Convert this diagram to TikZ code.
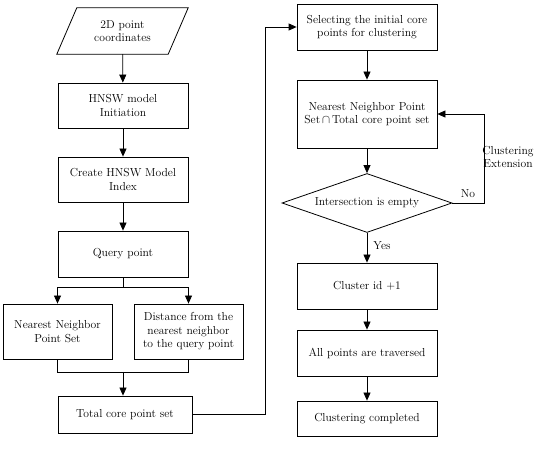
\documentclass[tikz,border=0pt]{standalone}
\usetikzlibrary{arrows.meta,shapes.geometric}
\begin{document}
\begin{tikzpicture}[x=1pt,y=-1pt,
  every node/.style={font=\fontsize{11.6}{13.6}\selectfont, align=center, inner sep=1pt},
  box/.style={draw, thick, rectangle, minimum width=130pt},
  rbox/.style={draw, thick, rectangle, minimum width=140pt},
  conn/.style={thick, -{Triangle[length=8pt,width=7pt]}},
  plain/.style={thick}]
\useasboundingbox (0,0) rectangle (550,449);
% left column
\node[minimum width=111pt, minimum height=46pt] (in) at (122.5,31) {2D point\\coordinates};
\draw[thick] ([xshift=10pt]in.north west) -- ([xshift=10pt]in.north east) -- ([xshift=-10pt]in.south east) -- ([xshift=-10pt]in.south west) -- cycle;
\node[box, minimum height=45pt] (init) at (123,105.5) {HNSW model\\Initiation};
\node[box, minimum height=45pt] (idx) at (123,179.5) {Create HNSW Model\\Index};
\node[box, minimum height=46pt] (q) at (123,254) {Query point};
\node[draw, thick, minimum width=109pt, minimum height=55pt] (nn) at (57.5,331.5) {Nearest Neighbor\\Point Set};
\node[draw, thick, minimum width=109pt, minimum height=55pt] (dist) at (188.5,331.5) {Distance from the\\nearest neighbor\\to the query point};
\node[box, minimum width=134pt, minimum height=37pt] (tot) at (125,414.5) {Total core point set};
\coordinate (br) at (123,287);
\coordinate (mg) at (123,372);
\coordinate (up) at (265,0);
% right column
\node[rbox, minimum height=46pt] (sel) at (367,27) {Selecting the initial core\\points for clustering};
\node[rbox, minimum height=68pt] (nni) at (367,114) {Nearest Neighbor Point\\Set\,$\cap$\,Total core point set};
\node[draw, thick, diamond, aspect=2.9, minimum width=170pt, minimum height=59pt, inner sep=0pt] (dia) at (367,203) {Intersection is empty};
\node[rbox, minimum height=46pt] (cl) at (367,286) {Cluster id +1};
\node[rbox, minimum height=46pt] (all) at (367,353) {All points are traversed};
\node[rbox, minimum height=35pt] (done) at (367,418.5) {Clustering completed};
\coordinate (lp) at (484,0);
\node (no) at (468,194) {No};
\node (ext) at (508,157) {Clustering\\Extension};
\node (yes) at (382,246) {Yes};
% connectors
\draw[conn] (in) -- (init);
\draw[conn] (init) -- (idx);
\draw[conn] (idx) -- (q);
\draw[plain] (q.south) -- (br);
\draw[conn] (br) -| (nn.north);
\draw[conn] (br) -| (dist.north);
\draw[plain] (nn.south) |- (mg);
\draw[plain] (dist.south) |- (mg);
\draw[conn] (mg) -- (tot.north -| mg);
\draw[conn] (tot.east) -| (up |- sel.west) -- (sel.west);
\draw[conn] (sel) -- (nni);
\draw[conn] (nni) -- (dia);
\draw[conn] (dia.east) -| (lp |- nni.east) -- (nni.east);
\draw[conn] (dia) -- (cl);
\draw[conn] (cl) -- (all);
\draw[conn] (all) -- (done);
\end{tikzpicture}
\end{document}
